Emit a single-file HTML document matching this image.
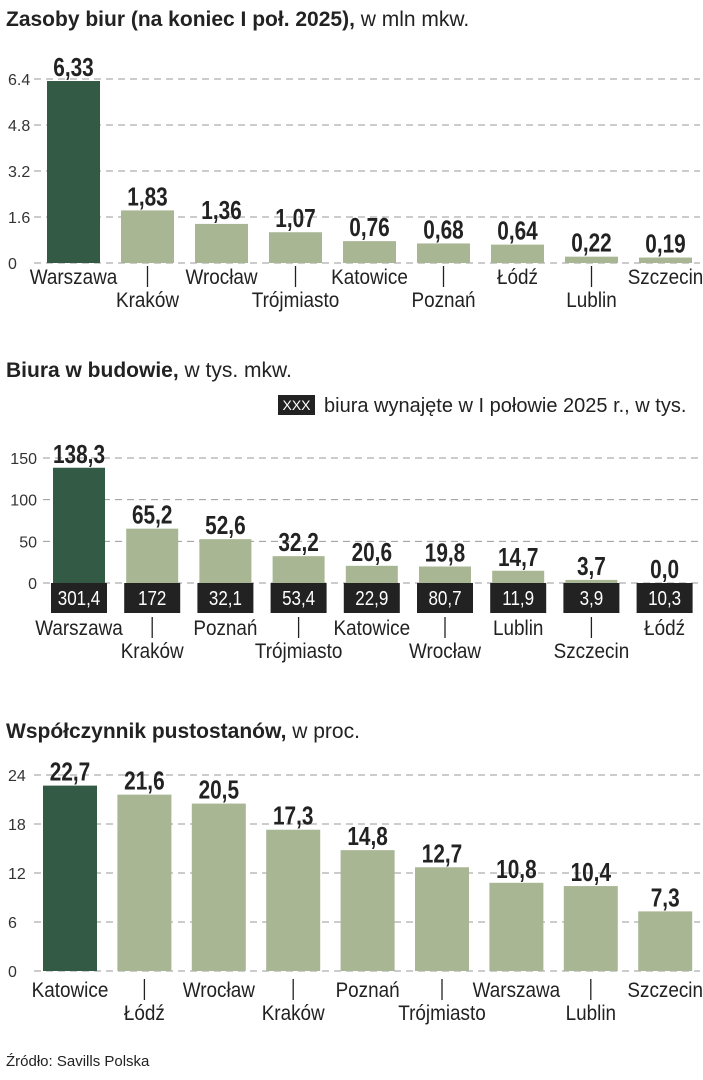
<!DOCTYPE html>
<html><head><meta charset="utf-8"><style>
body{margin:0;background:#fff;}
svg{display:block;}
.t{font-family:"Liberation Sans Narrow","Liberation Sans",sans-serif;}
</style></head><body>
<svg id="s" width="703" height="1080" xmlns="http://www.w3.org/2000/svg">
<text class="t" x="6" y="26" font-size="21" fill="#222"><tspan font-weight="bold">Zasoby biur (na koniec I poł. 2025),</tspan> w mln mkw.</text>
<text class="t" x="6" y="377" font-size="21" fill="#222"><tspan font-weight="bold">Biura w  budowie,</tspan> w tys. mkw.</text>
<rect x="278" y="395" width="37" height="20" fill="#222"/>
<text class="t" x="296.5" y="410" font-size="14" fill="#fff" text-anchor="middle">XXX</text>
<text class="t" x="324" y="412" font-size="20" fill="#222">biura wynajęte w I połowie 2025 r., w tys.</text>
<text class="t" x="6" y="738" font-size="21" fill="#222"><tspan font-weight="bold">Współczynnik pustostanów,</tspan> w proc.</text>
<text class="t" x="6" y="1066" font-size="15" fill="#222">Źródło: Savills Polska</text>
</svg>
<script>
const c1Cats=["Warszawa","Kraków","Wrocław","Trójmiasto","Katowice","Poznań","Łódź","Lublin","Szczecin"];
const c1Vals=[6.33,1.83,1.36,1.07,0.76,0.68,0.64,0.22,0.19];
const c1Labels=["6,33","1,83","1,36","1,07","0,76","0,68","0,64","0,22","0,19"];
const c1Ticks=[0,1.6,3.2,4.8,6.4];
const c1TickLabels=["0","1.6","3.2","4.8","6.4"];
const c2Cats=["Warszawa","Kraków","Poznań","Trójmiasto","Katowice","Wrocław","Lublin","Szczecin","Łódź"];
const c2Vals=[138.3,65.2,52.6,32.2,20.6,19.8,14.7,3.7,0.0];
const c2Labels=["138,3","65,2","52,6","32,2","20,6","19,8","14,7","3,7","0,0"];
const c2Leased=["301,4","172","32,1","53,4","22,9","80,7","11,9","3,9","10,3"];
const c2Ticks=[0,50,100,150];
const c2TickLabels=["0","50","100","150"];
const c3Cats=["Katowice","Łódź","Wrocław","Kraków","Poznań","Trójmiasto","Warszawa","Lublin","Szczecin"];
const c3Vals=[22.7,21.6,20.5,17.3,14.8,12.7,10.8,10.4,7.3];
const c3Labels=["22,7","21,6","20,5","17,3","14,8","12,7","10,8","10,4","7,3"];
const c3Ticks=[0,6,12,18,24];
const c3TickLabels=["0","6","12","18","24"];
const svg=document.getElementById('s');
const NS="http://www.w3.org/2000/svg";
function mk(tag,a){const e=document.createElementNS(NS,tag);for(const k in a)e.setAttribute(k,a[k]);svg.appendChild(e);return e;}
function chart(p){
  const y=v=>p.y0-(v/p.max)*(p.y0-p.yTop);
  const x=i=>p.x0+i*p.step;
  p.ticks.forEach((t,i)=>{
    const l=mk('line',{x1:p.gx,x2:700,y1:y(t),y2:y(t),stroke:'#999','stroke-width':1,'stroke-dasharray':'7 5'});
    
    
    const tx=mk('text',{x:p.tx,y:y(t)+6,'font-size':16,fill:'#333',class:'t','text-anchor':p.anchor});
    tx.textContent=p.tickLabels[i];
    
    
  });
  p.vals.forEach((v,i)=>{
    const fill=i===0?'#325a44':'#a8b693';
    const b=mk('rect',{x:x(i),y:y(v),width:p.w,height:p.y0-y(v),fill:fill});
    
    
    const cx=x(i)+p.w/2;
    const vt=mk('text',{x:0,y:0,'font-size':26,'font-weight':'bold',fill:'#222',class:'t','text-anchor':'middle',transform:'translate('+cx+','+(y(v)-5)+') scale(0.8,1)'});
    vt.textContent=p.labels[i];
    
    
    let ly=p.labY;
    if(p.leased){
      const r=mk('rect',{x:x(i)-2,y:p.y0,width:p.w+4,height:30,fill:'#222'});
      
      
      const lt=mk('text',{x:0,y:0,'font-size':20,fill:'#fff',class:'t','text-anchor':'middle',transform:'translate('+cx+','+(p.y0+22)+') scale(0.85,1)'});
      lt.textContent=p.leased[i];
      
      
    }
    if(i%2===1){
      const tk=mk('line',{x1:cx,x2:cx,y1:p.labY-18,y2:p.labY+3,stroke:'#222','stroke-width':1.3});
      
      
      ly=p.labY+23;
    }
    const ct=mk('text',{x:0,y:0,'font-size':21,fill:'#222',class:'t','text-anchor':'middle',transform:'translate('+cx+','+ly+') scale(0.9,1)'});
    ct.textContent=p.cats[i];
    
    
  });
}
chart({id:'stock',cats:c1Cats,vals:c1Vals,labels:c1Labels,ticks:c1Ticks,tickLabels:c1TickLabels,max:6.4,y0:263,yTop:79,x0:47,step:74,w:53,gx:34,tx:8,anchor:'start',labY:284});
chart({id:'construction',cats:c2Cats,vals:c2Vals,labels:c2Labels,leased:c2Leased,ticks:c2Ticks,tickLabels:c2TickLabels,max:150,y0:583,yTop:458,x0:53,step:73.2,w:52,gx:43,tx:37,anchor:'end',labY:635});
chart({id:'vacancy',cats:c3Cats,vals:c3Vals,labels:c3Labels,ticks:c3Ticks,tickLabels:c3TickLabels,max:24,y0:971,yTop:775,x0:43,step:74.4,w:54,gx:34,tx:8,anchor:'start',labY:997});
</script>
</body></html>
